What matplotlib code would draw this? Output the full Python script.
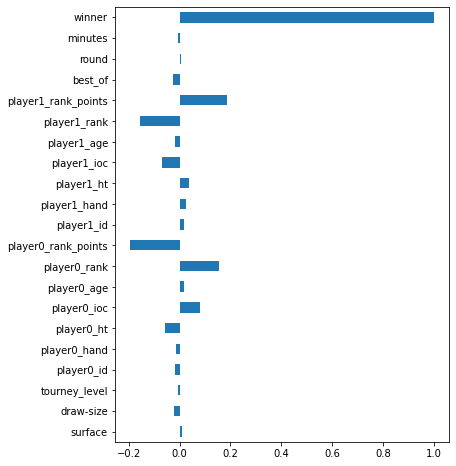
import matplotlib
matplotlib.use('Agg')
import matplotlib.pyplot as plt
import pandas as pd

# feature names, bottom to top
features = ['surface', 'draw-size', 'tourney_level', 'player0_id', 'player0_hand',
            'player0_ht', 'player0_ioc', 'player0_age', 'player0_rank',
            'player0_rank_points', 'player1_id', 'player1_hand', 'player1_ht',
            'player1_ioc', 'player1_age', 'player1_rank', 'player1_rank_points',
            'best_of', 'round', 'minutes', 'winner']
corr = [0.011, -0.023, -0.004, -0.016, -0.012,
        -0.058, 0.081, 0.019, 0.155,
        -0.194, 0.016, 0.027, 0.039,
        -0.07, -0.016, -0.155, 0.186,
        -0.027, 0.005, -0.004, 1.0]

s = pd.Series(corr, index=features)

fig = plt.figure(figsize=(456/72, 466/72), dpi=72)
ax = fig.add_axes([115/456, 24/466, 334/456, 435/466])
s.plot.barh(ax=ax, color='#1f77b4')
ax.tick_params(labelsize=10)

plt.savefig('out.png', dpi=72)
